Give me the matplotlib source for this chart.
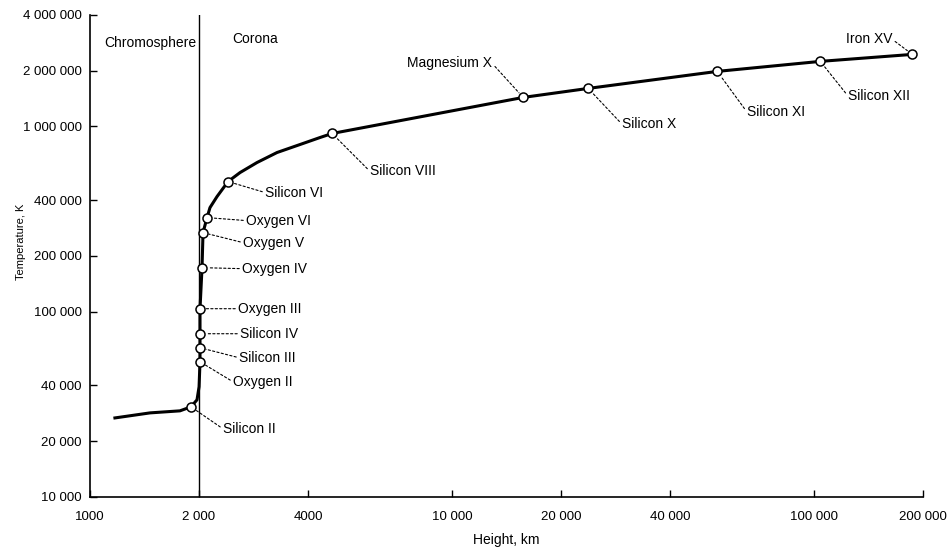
import matplotlib
matplotlib.use("Agg")
import matplotlib.pyplot as plt

plt.rcParams['font.family'] = ['Liberation Sans', 'DejaVu Sans']

# traced curve, height in km and temperature in K
curve_height = [1172, 1465, 1772, 1901, 1975, 2001, 2013, 2013, 2013, 2013, 2039, 2052,
                2105, 2145, 2243, 2406, 2597, 2893, 3285, 3803, 4319, 4662, 15710, 23750,
                53950, 103900, 186500]
curve_temp = [26700, 28430, 29160, 30650, 33450, 39320, 53660, 63900, 76050, 103800,
              172900, 267300, 322200, 364900, 418400, 504300, 564000, 639000, 723500,
              799300, 872000, 916600, 1435000, 1605000, 1983000, 2246000, 2450000]

# ions marked on the curve
ion_names = ["Silicon II", "Oxygen II", "Silicon III", "Silicon IV", "Oxygen III",
             "Oxygen IV", "Oxygen V", "Oxygen VI", "Silicon VI", "Silicon VIII",
             "Magnesium X", "Silicon X", "Silicon XI", "Silicon XII", "Iron XV"]
ion_height = [1901, 2013, 2013, 2013, 2013, 2039, 2052, 2105, 2406, 4662,
              15710, 23750, 53950, 103900, 186500]
ion_temp = [30650, 53660, 63900, 76050, 103800, 172900, 267300, 322200, 504300, 916600,
            1435000, 1605000, 1983000, 2246000, 2450000]

# label offsets in pixels from the marker
label_offsets = [(32, -22), (33, -20), (39, -10), (40, 0), (38, 0), (40, -1), (40, -10),
                 (39, -3), (37, -11), (38, -38), (-31, 34), (34, -36), (30, -41),
                 (28, -35), (-20, 15)]

x_ticks = [1000, 2000, 4000, 10000, 20000, 40000, 100000, 200000]
x_tick_labels = ["1000", "2 000", "4000", "10 000", "20 000", "40 000", "100 000", "200 000"]
y_ticks = [10000, 20000, 40000, 100000, 200000, 400000, 1000000, 2000000, 4000000]
y_tick_labels = ["10 000", "20 000", "40 000", "100 000", "200 000", "400 000",
                 "1 000 000", "2 000 000", "4 000 000"]

fig = plt.figure(figsize=(9.47, 5.54), dpi=100)
ax = fig.add_axes([0.095, 0.103, 0.88, 0.870])

ax.set_xscale('log')
ax.set_yscale('log')
ax.set_xlim(1000, 200000)
ax.set_ylim(10000, 4000000)

ax.axvline(2000, color='black', lw=1.0, zorder=1)
ax.plot(curve_height, curve_temp, color='black', lw=2.2, zorder=2)
ax.plot(ion_height, ion_temp, 'o', ms=6.5, mfc='white', mec='black', mew=1.1, zorder=3)

for name, h, t, (dx, dy) in zip(ion_names, ion_height, ion_temp, label_offsets):
    ha = 'right' if dx < 0 else 'left'
    ax.annotate(name, xy=(h, t), xytext=(dx, dy), textcoords='offset pixels',
                ha=ha, va='center', fontsize=10,
                arrowprops=dict(arrowstyle='-', linestyle=(0, (2, 2)), lw=0.8,
                                color='black', shrinkA=0, shrinkB=4.5,
                                relpos=(1, 0.5) if dx < 0 else (0, 0.5)))

ax.text(0.072, 0.942, "Chromosphere", transform=ax.transAxes, ha='center', va='center',
        fontsize=10)
ax.text(0.198, 0.950, "Corona", transform=ax.transAxes, ha='center', va='center',
        fontsize=10)

for s in ['top', 'right']:
    ax.spines[s].set_visible(False)
for s in ['left', 'bottom']:
    ax.spines[s].set_linewidth(1.2)

ax.minorticks_off()
ax.set_xticks(x_ticks)
ax.set_xticklabels(x_tick_labels)
ax.set_yticks(y_ticks)
ax.set_yticklabels(y_tick_labels)
ax.tick_params(direction='in', length=5, width=1, labelsize=9.5)
ax.tick_params(axis='x', pad=10)
ax.tick_params(axis='y', pad=6)

ax.set_xlabel("Height, km", fontsize=10)
ax.set_ylabel("Temperature, K", fontsize=8)
ax.xaxis.set_label_coords(0.5, -0.075)
ax.yaxis.set_label_coords(-0.077, 0.53)

fig.savefig("out.png", dpi=100)
